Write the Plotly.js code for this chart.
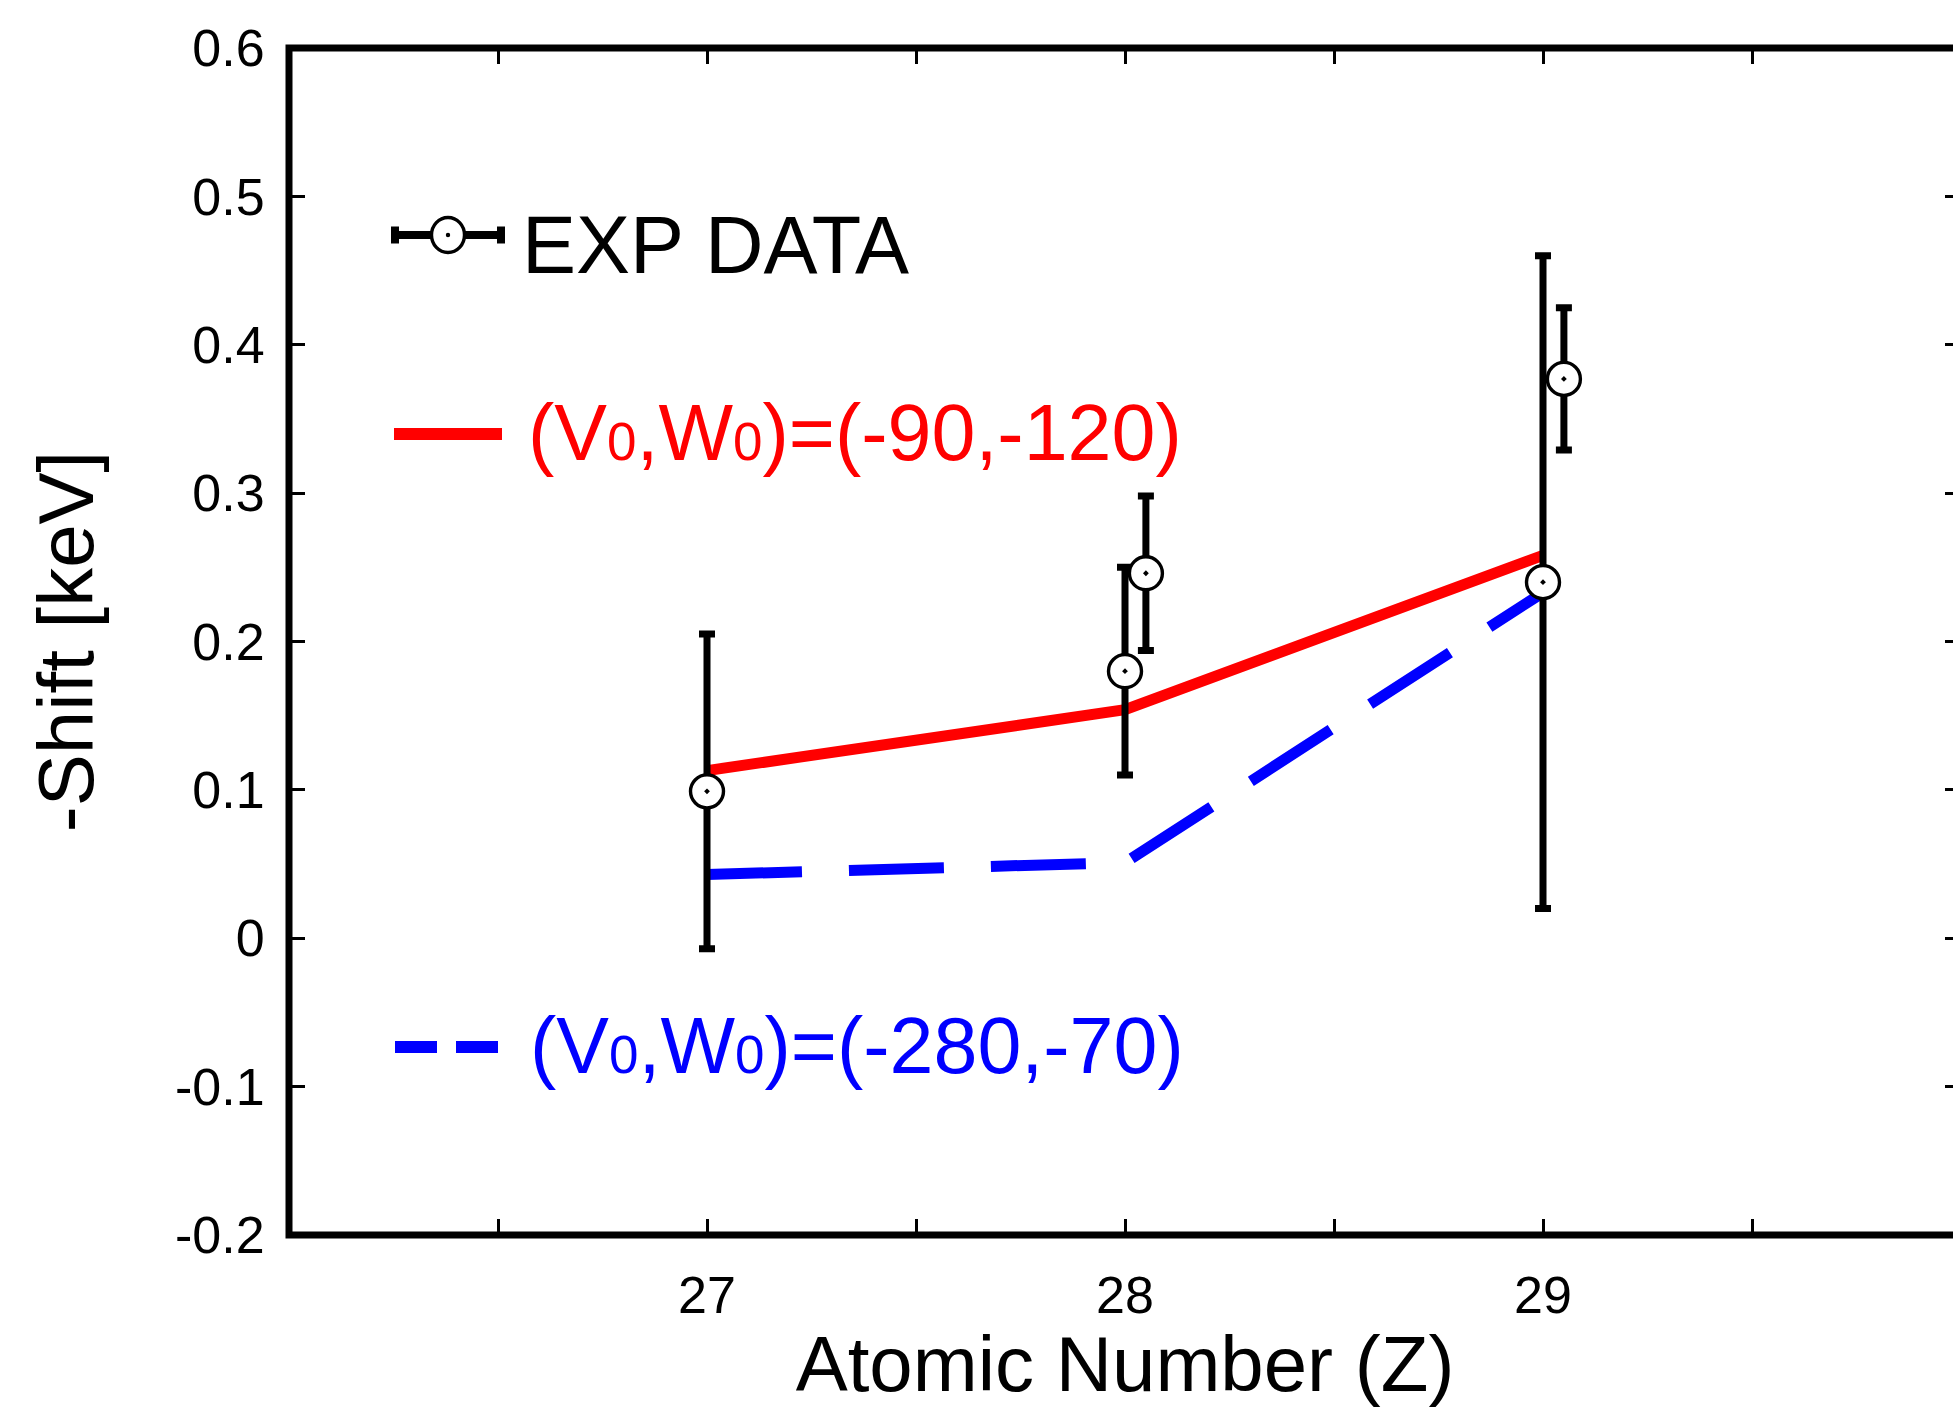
<!DOCTYPE html>
<html>
<head>
<meta charset="utf-8">
<script src="https://cdn.plot.ly/plotly-3.0.1.min.js"></script>
<style>
  html, body { margin: 0; padding: 0; overflow: hidden; background: #fff; }
  #chart { width: 1970px; height: 1408px; }
</style>
</head>
<body>
<div id="chart"></div>
<script>
// ---- data ----
const expZ = [27, 28, 28.05, 29, 29.05];
const expShift = [0.099, 0.180, 0.246, 0.240, 0.377];
const expErr = [0.106, 0.070, 0.052, 0.220, 0.048];

const modelZ = [27, 28, 29];
const shiftA = [0.113, 0.154, 0.258];   // (V0,W0)=(-90,-120)
const shiftB = [0.043, 0.051, 0.233];   // (V0,W0)=(-280,-70)

const xTickVals = [26.5, 27, 27.5, 28, 28.5, 29, 29.5];
const xTickText = ['', '27', '', '28', '', '29', ''];
const yTickVals = [-0.2, -0.1, 0, 0.1, 0.2, 0.3, 0.4, 0.5, 0.6];
const yTickText = ['-0.2', '-0.1', '0', '0.1', '0.2', '0.3', '0.4', '0.5', '0.6'];

const labelExp = 'EXP DATA';
const sub0 = '<span style="font-size:53px">0</span>';
const labelA = '(V' + sub0 + ',W' + sub0 + ')=(-90,-120)';
const labelB = '(V' + sub0 + ',W' + sub0 + ')=(-280,-70)';

// ---- layout geometry ----
const W = 1970, H = 1408;
const mL = 289, mR = 9, mT = 48, mB = 173;
const plotW = W - mL - mR, plotH = H - mT - mB;
const px = (x) => (x - mL) / plotW;          // page px -> paper x
const py = (y) => (H - mB - y) / plotH;      // page px -> paper y

const FONT = 'Liberation Sans, Arial, Helvetica, sans-serif';

const traces = [
  {
    x: modelZ, y: shiftA, type: 'scatter', mode: 'lines',
    line: { color: '#ff0000', width: 11 }, showlegend: false, name: labelA
  },
  {
    x: modelZ, y: shiftB, type: 'scatter', mode: 'lines',
    line: { color: '#0000ff', width: 11, dash: '95px,47px' }, showlegend: false, name: labelB
  },
  {
    x: expZ, y: expShift, type: 'scatter', mode: 'markers',
    marker: { symbol: 'circle-dot', size: 33, color: '#ffffff', line: { color: '#000000', width: 3.4 } },
    error_y: { type: 'data', array: expErr, visible: true, color: '#000000', thickness: 7, width: 8 },
    showlegend: false, name: labelExp
  }
];

// legend keys (page-pixel geometry)
const lgExpY = 235, lgRedY = 434, lgBlueY = 1047;
const lgCx = 448;
function pxShape(cx, cy, o) {
  return Object.assign({
    xref: 'paper', yref: 'paper', xsizemode: 'pixel', ysizemode: 'pixel',
    xanchor: px(cx), yanchor: py(cy)
  }, o);
}
const shapes = [
  // plot frame, centred on the plot-area edges
  { type: 'rect', xref: 'paper', yref: 'paper', x0: 0, x1: 1, y0: 0, y1: 1, layer: 'above',
    line: { color: '#000', width: 7 }, fillcolor: 'rgba(0,0,0,0)' },
  pxShape(lgCx, lgExpY, { type: 'line', x0: -57, x1: 57, y0: 0, y1: 0, line: { color: '#000', width: 8 } }),
  pxShape(lgCx, lgExpY, { type: 'line', x0: -53, x1: -53, y0: -8.5, y1: 8.5, line: { color: '#000', width: 8 } }),
  pxShape(lgCx, lgExpY, { type: 'line', x0: 53, x1: 53, y0: -8.5, y1: 8.5, line: { color: '#000', width: 8 } }),
  pxShape(lgCx, lgExpY, { type: 'circle', x0: -16.5, x1: 16.5, y0: -17.5, y1: 17.5, fillcolor: '#fff', line: { color: '#000', width: 3.4 } }),
  pxShape(lgCx, lgExpY, { type: 'circle', x0: -2.2, x1: 2.2, y0: -2.2, y1: 2.2, fillcolor: '#000', line: { color: '#000', width: 0 } }),
  pxShape(lgCx, lgRedY, { type: 'line', x0: -54, x1: 54, y0: 0, y1: 0, line: { color: '#ff0000', width: 12 } }),
  pxShape(lgCx, lgBlueY, { type: 'line', x0: -53, x1: 51, y0: 0, y1: 0, line: { color: '#0000ff', width: 12, dash: '42px,19px' } })
];

const annotations = [
  { text: labelExp, x: px(520), y: py(245), xref: 'paper', yref: 'paper', xanchor: 'left', yanchor: 'middle',
    showarrow: false, font: { family: FONT, size: 81, color: '#000' } },
  { text: labelA, x: px(526), y: py(432), xref: 'paper', yref: 'paper', xanchor: 'left', yanchor: 'middle',
    showarrow: false, font: { family: FONT, size: 79, color: '#ff0000' } },
  { text: labelB, x: px(528), y: py(1045), xref: 'paper', yref: 'paper', xanchor: 'left', yanchor: 'middle',
    showarrow: false, font: { family: FONT, size: 79, color: '#0000ff' } }
];

const axisCommon = {
  showgrid: false, zeroline: false, showline: true, linecolor: 'rgba(0,0,0,0)', linewidth: 7,
  mirror: 'ticks', ticks: 'inside', ticklen: 16, tickwidth: 3, tickcolor: '#000',
  tickmode: 'array', tickfont: { family: FONT, size: 52, color: '#000' }
};

const layout = {
  width: W, height: H,
  margin: { l: mL, r: mR, t: mT, b: mB, pad: 0 },
  paper_bgcolor: '#fff', plot_bgcolor: '#fff',
  showlegend: false,
  font: { family: FONT, color: '#000' },
  xaxis: Object.assign({}, axisCommon, {
    range: [26, 30], tickvals: xTickVals, ticktext: xTickText,
    ticklabelstandoff: 9,
    title: { text: 'Atomic Number (Z)', font: { family: FONT, size: 78, color: '#000' }, standoff: 33 }
  }),
  yaxis: Object.assign({}, axisCommon, {
    range: [-0.2, 0.6], tickvals: yTickVals, ticktext: yTickText,
    ticklabelstandoff: 7,
    title: { text: '-Shift [keV]', font: { family: FONT, size: 78, color: '#000' }, standoff: 58 }
  }),
  shapes: shapes,
  annotations: annotations
};

Plotly.newPlot('chart', traces, layout, { staticPlot: true, displayModeBar: false });
</script>
</body>
</html>
